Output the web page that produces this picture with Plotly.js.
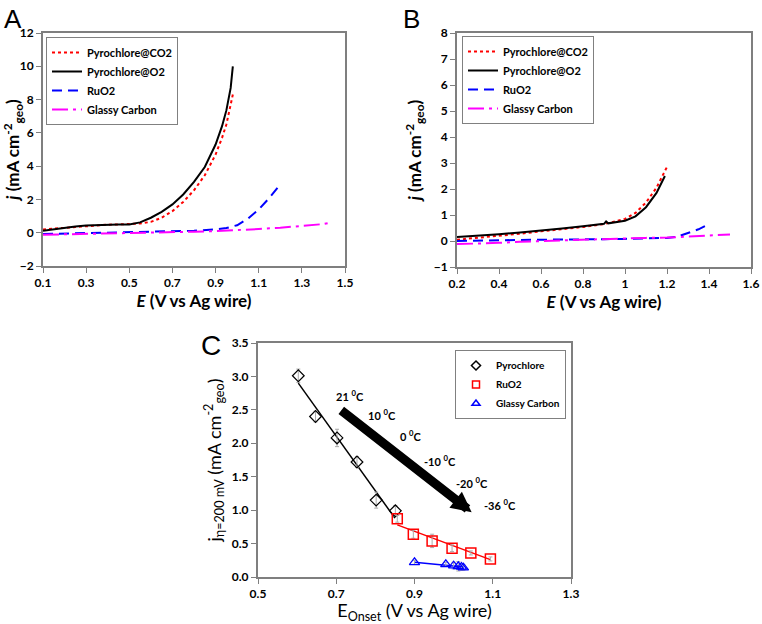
<!DOCTYPE html>
<html><head><meta charset="utf-8">
<script src="https://cdn.plot.ly/plotly-3.0.1.min.js"></script>
<style>html,body{margin:0;padding:0;background:#fff}#plot{width:762px;height:624px}</style>
</head><body><div id="plot"></div>
<script>
// Panel A
const aPyroO2X = [0.1,0.15,0.2,0.25,0.3,0.35,0.4,0.45,0.5,0.55,0.6,0.65,0.7,0.75,0.8,0.85,0.9,0.93,0.95,0.97,0.98];
const aPyroO2Y = [0.12,0.22,0.3,0.38,0.44,0.47,0.48,0.49,0.5,0.62,0.9,1.25,1.7,2.3,3.05,3.95,5.3,6.4,7.35,8.7,10.0];
const aPyroCO2X = [0.1,0.15,0.2,0.25,0.3,0.35,0.4,0.45,0.5,0.55,0.6,0.65,0.7,0.75,0.8,0.85,0.9,0.93,0.95,0.97,0.98];
const aPyroCO2Y = [0.2,0.25,0.3,0.35,0.42,0.46,0.48,0.5,0.53,0.55,0.65,0.9,1.3,1.85,2.55,3.45,4.7,5.7,6.5,7.6,8.3];
const aRuO2X = [0.1,0.2,0.3,0.4,0.5,0.6,0.7,0.8,0.9,0.95,1.0,1.05,1.1,1.15,1.2];
const aRuO2Y = [-0.08,-0.05,-0.03,0,0.05,0.08,0.1,0.12,0.2,0.28,0.45,0.85,1.4,2.1,2.9];
const aGCX = [0.1,0.2,0.3,0.4,0.5,0.6,0.7,0.8,0.9,1.0,1.1,1.2,1.3,1.4,1.43];
const aGCY = [-0.12,-0.1,-0.08,-0.05,-0.02,0.0,0.02,0.06,0.1,0.15,0.22,0.3,0.4,0.52,0.6];
// Panel B
const bPyroO2X = [0.2,0.3,0.4,0.5,0.6,0.7,0.8,0.9,0.91,0.92,1.0,1.05,1.1,1.15,1.19];
const bPyroO2Y = [0.15,0.2,0.26,0.33,0.4,0.48,0.57,0.66,0.75,0.68,0.78,0.95,1.3,1.85,2.5];
const bPyroCO2X = [0.2,0.3,0.4,0.5,0.6,0.7,0.8,0.9,1.0,1.05,1.1,1.15,1.2];
const bPyroCO2Y = [0.05,0.12,0.2,0.28,0.37,0.45,0.54,0.65,0.85,1.08,1.48,2.05,2.85];
const bRuO2X = [0.2,0.3,0.4,0.5,0.6,0.7,0.8,0.9,1.0,1.1,1.2,1.25,1.3,1.35,1.4];
const bRuO2Y = [0.0,0.02,0.03,0.04,0.05,0.05,0.06,0.07,0.08,0.1,0.12,0.17,0.3,0.45,0.65];
const bGCX = [0.2,0.3,0.4,0.5,0.6,0.7,0.8,0.9,1.0,1.1,1.2,1.3,1.4,1.5];
const bGCY = [-0.12,-0.1,-0.07,-0.03,0.0,0.03,0.05,0.07,0.1,0.12,0.13,0.17,0.2,0.25];
// Panel C
const cPyroX = [0.603,0.647,0.702,0.753,0.802,0.851];
const cPyroY = [3.01,2.40,2.08,1.72,1.15,0.99];
const cPyroErr = [0.1,0.08,0.13,0.08,0.12,0.08];
const cPyroFitX = [0.603,0.85];
const cPyroFitY = [2.9,0.88];
const cRuX = [0.856,0.897,0.945,0.996,1.044,1.094];
const cRuY = [0.87,0.64,0.54,0.43,0.36,0.27];
const cRuErr = [0.05,0.06,0.1,0.05,0.03,0.03];
const cRuFitX = [0.856,1.094];
const cRuFitY = [0.78,0.26];
const cGCX = [0.90,0.98,1.0,1.012,1.02,1.025];
const cGCY = [0.22,0.19,0.17,0.16,0.15,0.14];
const cGCErr = [0.03,0.03,0.05,0.07,0.05,0.04];
const cGCFitX = [0.90,1.025];
const cGCFitY = [0.22,0.15];
const tempLabels = ["21 <sup>0</sup>C","10 <sup>0</sup>C","0 <sup>0</sup>C","-10 <sup>0</sup>C","-20 <sup>0</sup>C","-36 <sup>0</sup>C"];
const tempX = [0.735,0.816,0.89,0.965,1.046,1.118];
const tempY = [2.71,2.43,2.11,1.75,1.41,1.09];
const arrowStart = [0.709,2.51];
const arrowEnd = [1.046,0.97];

const F = "Lato, 'Liberation Sans', sans-serif";
const RED = "#ff0000", BLUE = "#0000ff", MAG = "#ff00ff";

const traces = [
  {x:aPyroCO2X,y:aPyroCO2Y,xaxis:'x',yaxis:'y',mode:'lines',name:'Pyrochlore@CO2',line:{color:RED,width:2,dash:'dot'},legend:'legend'},
  {x:aPyroO2X,y:aPyroO2Y,xaxis:'x',yaxis:'y',mode:'lines',name:'Pyrochlore@O2',line:{color:'#000',width:2},legend:'legend'},
  {x:aRuO2X,y:aRuO2Y,xaxis:'x',yaxis:'y',mode:'lines',name:'RuO2',line:{color:BLUE,width:2,dash:'10px,6px'},legend:'legend'},
  {x:aGCX,y:aGCY,xaxis:'x',yaxis:'y',mode:'lines',name:'Glassy Carbon',line:{color:MAG,width:2,dash:'16px,5px,3px,5px'},legend:'legend'},

  {x:bPyroCO2X,y:bPyroCO2Y,xaxis:'x2',yaxis:'y2',mode:'lines',name:'Pyrochlore@CO2',line:{color:RED,width:2,dash:'dot'},legend:'legend2'},
  {x:bPyroO2X,y:bPyroO2Y,xaxis:'x2',yaxis:'y2',mode:'lines',name:'Pyrochlore@O2',line:{color:'#000',width:2},legend:'legend2'},
  {x:bRuO2X,y:bRuO2Y,xaxis:'x2',yaxis:'y2',mode:'lines',name:'RuO2',line:{color:BLUE,width:2,dash:'10px,6px'},legend:'legend2'},
  {x:bGCX,y:bGCY,xaxis:'x2',yaxis:'y2',mode:'lines',name:'Glassy Carbon',line:{color:MAG,width:2,dash:'16px,5px,3px,5px'},legend:'legend2'},

  {x:cPyroFitX,y:cPyroFitY,xaxis:'x3',yaxis:'y3',mode:'lines',line:{color:'#000',width:1.5},showlegend:false},
  {x:cRuFitX,y:cRuFitY,xaxis:'x3',yaxis:'y3',mode:'lines',line:{color:RED,width:1.5},showlegend:false},
  {x:cGCFitX,y:cGCFitY,xaxis:'x3',yaxis:'y3',mode:'lines',line:{color:BLUE,width:1.5},showlegend:false},
  {x:cPyroX,y:cPyroY,xaxis:'x3',yaxis:'y3',mode:'markers',showlegend:false,
   marker:{symbol:'diamond-open',size:9,color:'#000',line:{width:1.2}},
   error_y:{type:'data',array:cPyroErr,color:'#aaa',thickness:1,width:2}},
  {x:cRuX,y:cRuY,xaxis:'x3',yaxis:'y3',mode:'markers',showlegend:false,
   marker:{symbol:'square-open',size:10,color:RED,line:{width:1.5}},
   error_y:{type:'data',array:cRuErr,color:'#aaa',thickness:1,width:2}},
  {x:cGCX,y:cGCY,xaxis:'x3',yaxis:'y3',mode:'markers',showlegend:false,
   marker:{symbol:'triangle-up-open',size:9,color:BLUE,line:{width:1.2}},
   error_y:{type:'data',array:cGCErr,color:'#aaa',thickness:1,width:2}},
  // legend-only entries for panel C (small symbols like the reference)
  {x:[null],y:[null],xaxis:'x3',yaxis:'y3',mode:'markers',name:'Pyrochlore',legend:'legend3',marker:{symbol:'diamond-open',size:7,color:'#000',line:{width:1.5}}},
  {x:[null],y:[null],xaxis:'x3',yaxis:'y3',mode:'markers',name:'RuO2',legend:'legend3',marker:{symbol:'square-open',size:7,color:RED,line:{width:1.5}}},
  {x:[null],y:[null],xaxis:'x3',yaxis:'y3',mode:'markers',name:'Glassy Carbon',legend:'legend3',marker:{symbol:'triangle-up-open',size:7,color:BLUE,line:{width:1.5}}}
];

function ax(extra){
  return Object.assign({showline:true,mirror:true,linecolor:'#7f7f7f',linewidth:2,showgrid:false,zeroline:false,
    ticks:'outside',ticklen:5,tickcolor:'#7f7f7f',tickwidth:1,
    tickfont:{family:F,size:12,color:'#000',weight:'bold'}},extra);
}
const ttlFont = {family:F,size:17,color:'#000',weight:'bold'};
const ttlFontC = {family:F,size:18,color:'#000'};

const legBase = {bgcolor:'rgba(255,255,255,1)',bordercolor:'#808080',borderwidth:1,
  font:{family:F,size:11,color:'#000',weight:'bold'},xanchor:'left',yanchor:'top',tracegroupgap:0,itemwidth:30};

const annotations = [
  {text:'A',xref:'paper',yref:'paper',x:2/762,y:1-2/624,xanchor:'left',yanchor:'top',showarrow:false,font:{family:'Liberation Sans, Arial',size:26,color:'#000'}},
  {text:'B',xref:'paper',yref:'paper',x:401/762,y:1-2/624,xanchor:'left',yanchor:'top',showarrow:false,font:{family:'Liberation Sans, Arial',size:26,color:'#000'}},
  {text:'C',xref:'paper',yref:'paper',x:199/762,y:1-328/624,xanchor:'left',yanchor:'top',showarrow:false,font:{family:'Liberation Sans, Arial',size:28,color:'#000'}},
  {x:arrowEnd[0],y:arrowEnd[1],ax:arrowStart[0],ay:arrowStart[1],xref:'x3',yref:'y3',axref:'x3',ayref:'y3',
   showarrow:true,arrowhead:2,arrowsize:0.45,arrowwidth:9,arrowcolor:'#000',text:''}
];
for (let i=0;i<tempLabels.length;i++){
  annotations.push({text:tempLabels[i],x:tempX[i],y:tempY[i],xref:'x3',yref:'y3',showarrow:false,
    font:{family:F,size:11,color:'#000',weight:'bold'}});
}

const layout = {
  width:762,height:624,margin:{l:0,r:0,t:0,b:0},paper_bgcolor:'#fff',plot_bgcolor:'#fff',
  showlegend:true,
  xaxis:ax({domain:[43/762,345/762],anchor:'y',range:[0.1,1.5],tickvals:[0.1,0.3,0.5,0.7,0.9,1.1,1.3,1.5],ticktext:['0.1','0.3','0.5','0.7','0.9','1.1','1.3','1.5'],
    title:{text:'<i>E</i> (V vs Ag wire)',font:ttlFont,standoff:4}}),
  yaxis:ax({domain:[(624-266)/624,(624-33)/624],anchor:'x',range:[-2,12],dtick:2,
    title:{text:'<i>j</i> (mA cm<sup>-2</sup><sub>geo</sub>)',font:ttlFont,standoff:8}}),
  xaxis2:ax({domain:[457/762,751/762],anchor:'y2',range:[0.2,1.6],tickvals:[0.2,0.4,0.6,0.8,1,1.2,1.4,1.6],ticktext:['0.2','0.4','0.6','0.8','1','1.2','1.4','1.6'],
    title:{text:'<i>E</i> (V vs Ag wire)',font:ttlFont,standoff:4}}),
  yaxis2:ax({domain:[(624-267)/624,(624-33)/624],anchor:'x2',range:[-1,8],dtick:1,
    title:{text:'<i>j</i> (mA cm<sup>-2</sup><sub>geo</sub>)',font:ttlFont,standoff:8}}),
  xaxis3:ax({domain:[258/762,571/762],anchor:'y3',range:[0.5,1.3],tickvals:[0.5,0.7,0.9,1.1,1.3],ticktext:['0.5','0.7','0.9','1.1','1.3'],
    title:{text:'E<sub>Onset</sub> (V vs Ag wire)',font:ttlFontC,standoff:8}}),
  yaxis3:ax({domain:[(624-577)/624,(624-343)/624],anchor:'x3',range:[0,3.5],tickvals:[0,0.5,1,1.5,2,2.5,3,3.5],ticktext:['0.0','0.5','1.0','1.5','2.0','2.5','3.0','3.5'],
    title:{text:'j<sub>η=200 mV</sub> (mA cm<sup>-2</sup><sub>geo</sub>)',font:ttlFontC,standoff:6}}),
  legend:Object.assign({},legBase,{x:46/762,y:1-37/624}),
  legend2:Object.assign({},legBase,{x:462/762,y:1-36/624}),
  legend3:Object.assign({},legBase,{x:566/762,xanchor:'right',y:1-350/624,font:{family:F,size:10,color:'#000',weight:'bold'}}),
  annotations:annotations
};
Plotly.newPlot('plot',traces,layout,{displayModeBar:false,staticPlot:true});
</script></body></html>
